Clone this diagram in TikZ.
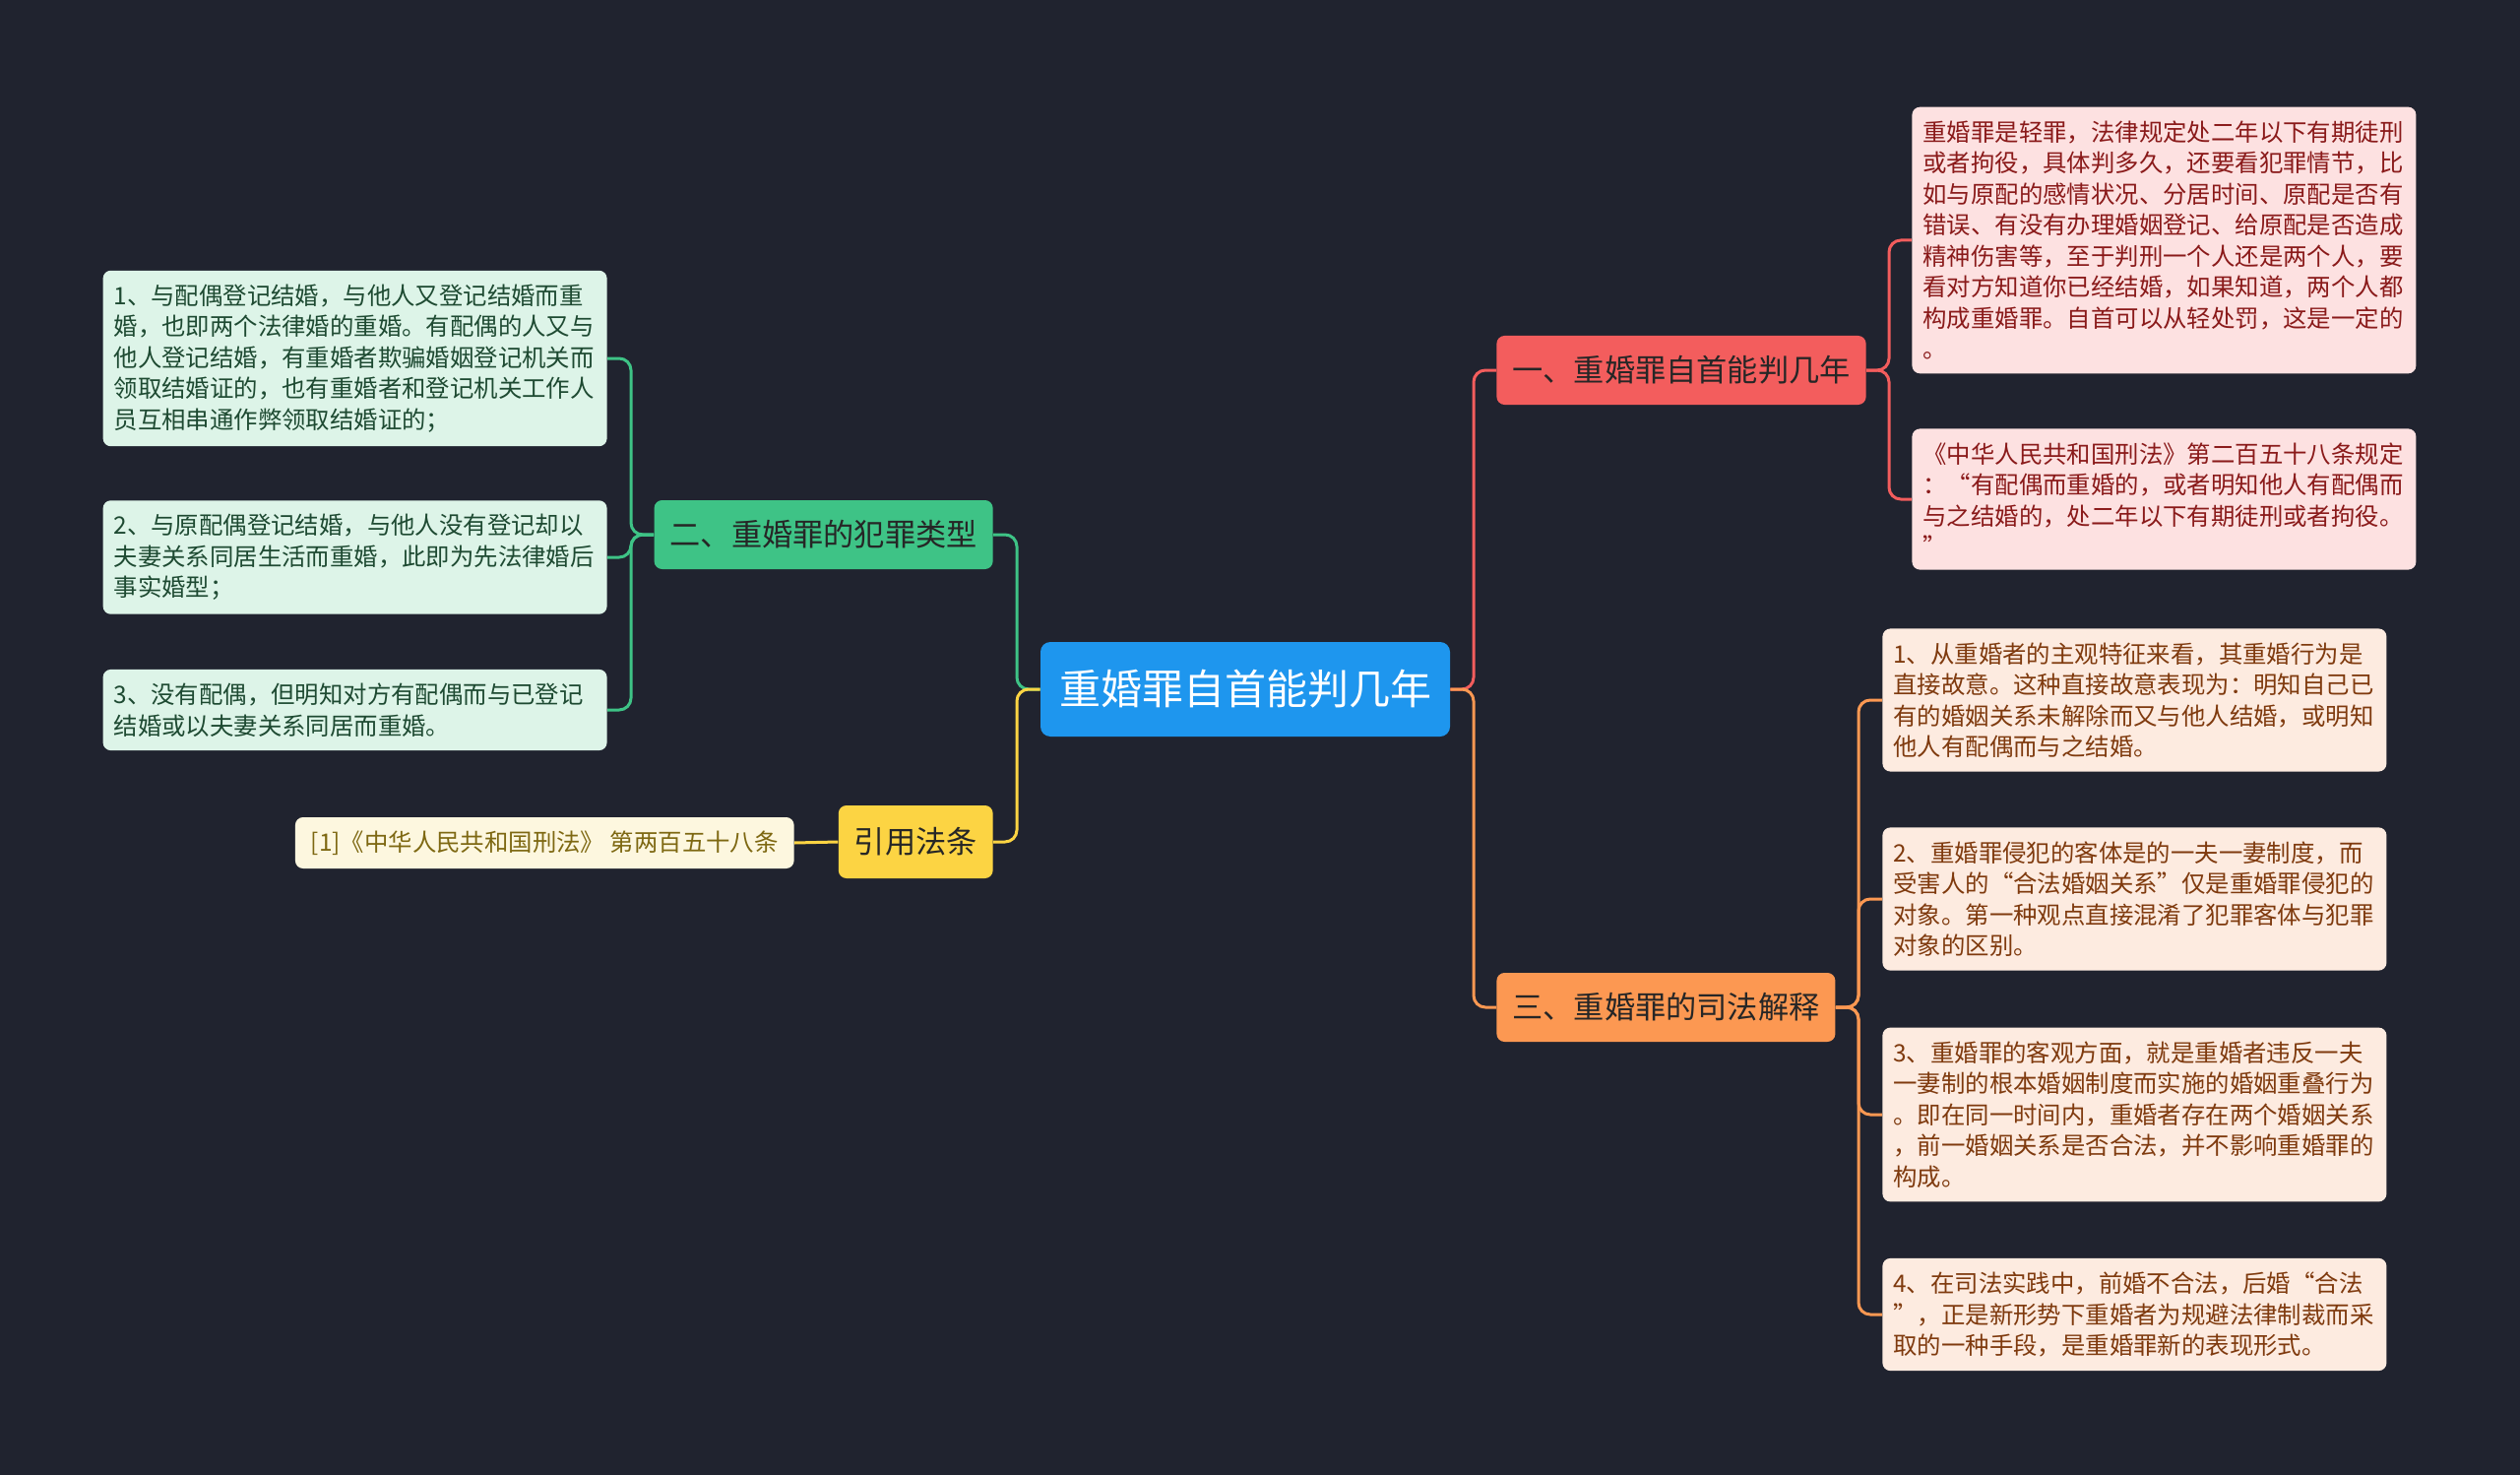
\documentclass[tikz,border=0pt]{standalone}
\usepackage{fontspec}
\setmainfont{Noto Sans CJK SC}
\usetikzlibrary{positioning,calc}

\definecolor{bg}{HTML}{20232F}
\definecolor{rootblue}{HTML}{1E96EE}
\definecolor{redbr}{HTML}{F35D5D}
\definecolor{orgbr}{HTML}{FC9852}
\definecolor{grnbr}{HTML}{3EC386}
\definecolor{ylwbr}{HTML}{FCD443}
\definecolor{redleaf}{HTML}{FDE1E1}
\definecolor{orgleaf}{HTML}{FDEBE0}
\definecolor{grnleaf}{HTML}{DDF4E8}
\definecolor{ylwleaf}{HTML}{FDF7DF}
\definecolor{redtxt}{HTML}{8A1A1A}
\definecolor{orgtxt}{HTML}{7F3A0E}
\definecolor{grntxt}{HTML}{1E4A32}
\definecolor{ylwtxt}{HTML}{7E6812}

\begin{document}
\begin{tikzpicture}[x=0.5pt, y=-0.5pt,
  rootbox/.style={fill=rootblue, text=white, rounded corners=5pt, minimum height=48pt,
                  inner xsep=9.5pt, font=\fontsize{21}{25}\selectfont},
  brbox/.style={rounded corners=4pt, minimum height=35pt, inner xsep=8pt,
                text=black!85, font=\fontsize{15.6}{19}\selectfont},
  leafbox/.style={rounded corners=4pt, text width=245pt, inner xsep=5.5pt, inner ysep=7pt,
                  align=left, font=\fontsize{12.2}{15.75}\selectfont},
  lnk/.style={line width=1.5pt, rounded corners=6pt}]

\fill[bg] (0,0) rectangle (2560,1498);

\def\rlx{1942}  % right leaves, upper branch
\def\rmx{1912}  % right leaves, lower branch
\def\llx{617}   % left leaves

% centre and branches
\node[rootbox] (root) at (1265,700) {重婚罪自首能判几年};
\node[brbox, fill=redbr, anchor=west] (b1) at (1520,376) {一、重婚罪自首能判几年};
\node[brbox, fill=orgbr, anchor=west] (b3) at (1520,1023) {三、重婚罪的司法解释};
\node[brbox, fill=grnbr, anchor=east] (b2) at (1009,543) {二、重婚罪的犯罪类型};
\node[brbox, fill=ylwbr, anchor=east, minimum height=37pt] (bref) at (1009,855) {引用法条};

% leaves of branch one
\node[leafbox, fill=redleaf, text=redtxt, anchor=west] (l11) at (\rlx,244)
  {重婚罪是轻罪，法律规定处二年以下有期徒刑\\或者拘役，具体判多久，还要看犯罪情节，比\\如与原配的感情状况、分居时间、原配是否有\\错误、有没有办理婚姻登记、给原配是否造成\\精神伤害等，至于判刑一个人还是两个人，要\\看对方知道你已经结婚，如果知道，两个人都\\构成重婚罪。自首可以从轻处罚，这是一定的\\。};
\node[leafbox, fill=redleaf, text=redtxt, anchor=west] (l12) at (\rlx,507)
  {《中华人民共和国刑法》第二百五十八条规定\\：“有配偶而重婚的，或者明知他人有配偶而\\与之结婚的，处二年以下有期徒刑或者拘役。\\”};

% leaves of branch three
\node[leafbox, fill=orgleaf, text=orgtxt, anchor=west] (l31) at (\rmx,711)
  {1、从重婚者的主观特征来看，其重婚行为是\\直接故意。这种直接故意表现为：明知自己已\\有的婚姻关系未解除而又与他人结婚，或明知\\他人有配偶而与之结婚。};
\node[leafbox, fill=orgleaf, text=orgtxt, anchor=west] (l32) at (\rmx,913)
  {2、重婚罪侵犯的客体是的一夫一妻制度，而\\受害人的“合法婚姻关系”仅是重婚罪侵犯的\\对象。第一种观点直接混淆了犯罪客体与犯罪\\对象的区别。};
\node[leafbox, fill=orgleaf, text=orgtxt, anchor=west] (l33) at (\rmx,1132)
  {3、重婚罪的客观方面，就是重婚者违反一夫\\一妻制的根本婚姻制度而实施的婚姻重叠行为\\。即在同一时间内，重婚者存在两个婚姻关系\\，前一婚姻关系是否合法，并不影响重婚罪的\\构成。};
\node[leafbox, fill=orgleaf, text=orgtxt, anchor=west] (l34) at (\rmx,1335)
  {4、在司法实践中，前婚不合法，后婚“合法\\”，正是新形势下重婚者为规避法律制裁而采\\取的一种手段，是重婚罪新的表现形式。};

% leaves of branch two
\node[leafbox, fill=grnleaf, text=grntxt, anchor=east] (l21) at (\llx,364)
  {1、与配偶登记结婚，与他人又登记结婚而重\\婚，也即两个法律婚的重婚。有配偶的人又与\\他人登记结婚，有重婚者欺骗婚姻登记机关而\\领取结婚证的，也有重婚者和登记机关工作人\\员互相串通作弊领取结婚证的；};
\node[leafbox, fill=grnleaf, text=grntxt, anchor=east] (l22) at (\llx,566)
  {2、与原配偶登记结婚，与他人没有登记却以\\夫妻关系同居生活而重婚，此即为先法律婚后\\事实婚型；};
\node[leafbox, fill=grnleaf, text=grntxt, anchor=east] (l23) at (\llx,721)
  {3、没有配偶，但明知对方有配偶而与已登记\\结婚或以夫妻关系同居而重婚。};

% reference leaf
\node[rounded corners=4pt, fill=ylwleaf, text=ylwtxt, anchor=east, minimum height=26pt,
      inner xsep=8pt, font=\fontsize{12.2}{15}\selectfont] (lref) at (807,856)
  {[1]《中华人民共和国刑法》 第两百五十八条};

% trunk points
\coordinate (rt) at (1497,700);
\coordinate (lt) at (1033,700);
\coordinate (c1) at (1919,376);
\coordinate (c3) at (1888,1023);
\coordinate (c2) at (641,543);

\draw[lnk, redbr] (root.east) -- (rt) |- (b1.west);
\draw[lnk, orgbr] (root.east) -- (rt) |- (b3.west);
\draw[lnk, grnbr] (root.west) -- (lt) |- (b2.east);
\draw[lnk, ylwbr] (root.west) -- (lt) |- (bref.east);

\draw[lnk, redbr] (b1.east) -- (c1) |- (l11.west);
\draw[lnk, redbr] (b1.east) -- (c1) |- (l12.west);
\foreach \n in {l31,l32,l33,l34}
  \draw[lnk, orgbr] (b3.east) -- (c3) |- (\n.west);
\foreach \n in {l21,l22,l23}
  \draw[lnk, grnbr] (b2.west) -- (c2) |- (\n.east);
\draw[lnk, ylwbr] (bref.west) -- (lref.east);
\end{tikzpicture}
\end{document}
